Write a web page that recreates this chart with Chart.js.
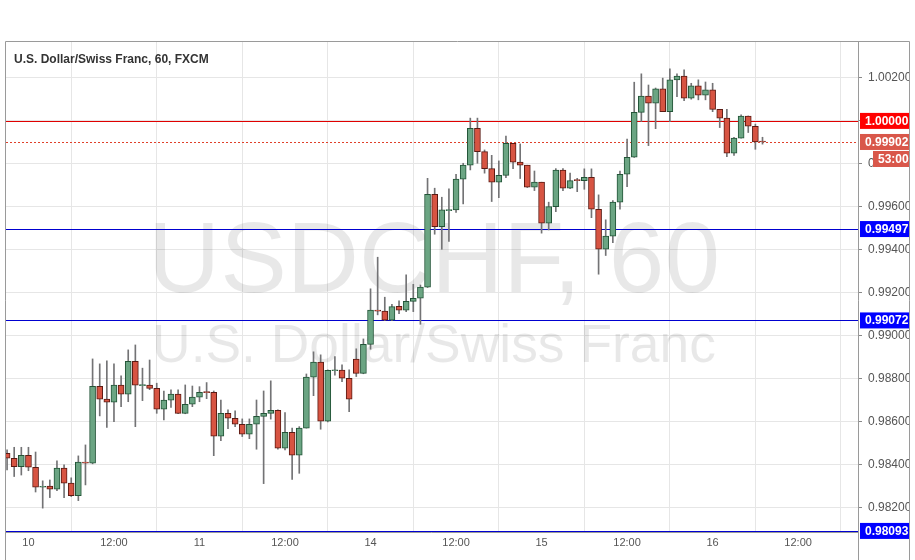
<!DOCTYPE html>
<html><head><meta charset="utf-8">
<script src="https://cdn.jsdelivr.net/npm/chart.js@4/dist/chart.umd.min.js"></script>
<style>html,body{margin:0;padding:0;background:#fff}#wrap{width:915px;height:560px}</style>
</head><body><div id="wrap"><canvas id="c"></canvas></div>
<script>
const opens=[.98454,.98431,.98392,.98445,.98389,.98296,.98302,.98287,.98385,.98315,.98257,.98411,.98408,.98766,.98706,.98692,.98771,.98729,.98882,.98769,.98771,.98756,.98659,.98701,.98729,.98640,.98682,.98715,.98738,.98738,.98534,.98640,.98617,.98589,.98543,.98589,.98626,.98640,.98654,.98478,.98552,.98445,.98571,.98808,.98878,.98603,.98838,.98841,.98803,.98892,.98826,.98961,.99120,.99115,.99073,.99138,.99120,.99161,.99175,.99227,.99659,.99508,.99583,.99586,.99729,.99794,.99966,.99857,.99778,.99715,.99747,.99896,.99808,.99794,.99692,.99715,.99524,.99601,.99771,.99687,.99725,.99722,.99738,.99589,.99403,.99464,.99622,.99752,.99831,1.00040,1.00116,1.00082,1.00149,1.00043,1.00191,1.00209,1.00106,1.00163,1.00120,1.00144,1.00054,1.00013,.99850,.99920,1.00023,.99975,.99906];
const highs=[.98470,.98482,.98482,.98482,.98460,.98326,.98330,.98419,.98400,.98340,.98442,.98493,.98893,.98870,.98884,.98870,.98814,.98935,.98958,.98850,.98888,.98780,.98744,.98749,.98749,.98772,.98767,.98764,.98783,.98744,.98702,.98656,.98651,.98614,.98614,.98702,.98744,.98791,.98656,.98643,.98571,.98578,.98823,.98926,.98912,.98842,.98904,.98865,.98842,.98940,.98986,.99219,.99366,.99180,.99147,.99163,.99284,.99240,.99237,.99733,.99687,.99645,.99684,.99752,.99803,1.00013,1.00013,.99865,.99840,.99814,.99930,.99896,.99893,.99794,.99767,.99715,.99622,.99778,.99778,.99757,.99733,.99777,.99777,.99656,.99540,.99629,.99767,.99916,1.00180,1.00219,1.00167,1.00153,1.00199,1.00242,1.00219,1.00237,1.00175,1.00191,1.00181,1.00175,1.00054,1.00054,.99924,1.00028,1.00023,.99985,.99924];
const lows=[.98377,.98346,.98353,.98373,.98274,.98199,.98248,.98280,.98248,.98253,.98234,.98307,.98405,.98628,.98574,.98601,.98671,.98694,.98578,.98699,.98750,.98640,.98609,.98667,.98638,.98638,.98671,.98694,.98708,.98443,.98513,.98569,.98578,.98532,.98522,.98473,.98313,.98613,.98473,.98470,.98333,.98361,.98571,.98722,.98566,.98600,.98817,.98787,.98648,.98811,.98824,.98938,.99098,.99071,.99071,.99104,.99113,.99113,.99054,.99225,.99473,.99403,.99439,.99574,.99614,.99772,.99803,.99757,.99625,.99643,.99736,.99778,.99732,.99690,.99676,.99478,.99493,.99578,.99676,.99685,.99671,.99682,.99550,.99287,.99374,.99434,.99589,.99694,.99830,.99997,.99885,.99964,1.00043,.99997,1.00113,1.00094,1.00101,1.00098,1.00098,1.00043,.99969,.99834,.99839,.99920,.99946,.99868,.99892];
const closes=[.98431,.98392,.98445,.98389,.98296,.98300,.98287,.98385,.98315,.98257,.98413,.98408,.98766,.98706,.98692,.98771,.98729,.98882,.98771,.98771,.98756,.98659,.98701,.98729,.98640,.98682,.98715,.98738,.98736,.98534,.98640,.98617,.98589,.98543,.98589,.98626,.98640,.98654,.98478,.98552,.98445,.98571,.98808,.98878,.98603,.98840,.98841,.98803,.98706,.98826,.98961,.99120,.99115,.99073,.99136,.99120,.99161,.99175,.99227,.99659,.99508,.99586,.99586,.99729,.99794,.99966,.99857,.99778,.99715,.99747,.99896,.99808,.99794,.99692,.99715,.99524,.99601,.99771,.99687,.99722,.99722,.99738,.99589,.99403,.99464,.99622,.99752,.99831,1.00040,1.00116,1.00082,1.00149,1.00043,1.00191,1.00209,1.00106,1.00163,1.00120,1.00144,1.00054,1.00013,.99850,.99920,1.00023,.99975,.99902,.99902];
const xTickIdx=[3,15,27,39,51,63,75,87,99,111];
const xTickLabels=["10","12:00","11","12:00","14","12:00","15","12:00","16","12:00"];
const yTicks=[0.982,0.984,0.986,0.988,0.990,0.992,0.994,0.996,0.998,1.000,1.002];
const levelValues=[1.00000,0.99497,0.99072,0.98093];
const levelColors=["#e00000","#0000d0","#0000d0","#0000d0"];
const lastPrice=0.99902;
const countdown="53:00";
const title="U.S. Dollar/Swiss Franc, 60, FXCM";
const wm1="USDCHF, 60", wm2="U.S. Dollar/Swiss Franc";

const bodies=opens.map((o,i)=>({x:i,y:[o,closes[i]]}));
const wicks=opens.map((o,i)=>({x:i,y:[lows[i],highs[i]]}));
const up=i=>closes[i]>=opens[i];
const FONT='"Liberation Sans", Arial, sans-serif';

const deco={id:'deco',
 beforeDatasetsDraw(ch){const c=ch.ctx,a=ch.chartArea;c.save();
  c.beginPath();c.rect(a.left,a.top,a.right-a.left,a.bottom-a.top);c.clip();
  c.fillStyle='rgba(0,0,0,0.09)';c.textAlign='center';c.textBaseline='alphabetic';
  const fit=(t,w,y)=>{c.font='100px '+FONT;const s=w/c.measureText(t).width;c.font=(100*s)+'px '+FONT;c.fillText(t,434,y);};
  fit(wm1,572,292);fit(wm2,564,362);
  const y=ch.scales.y;
  levelValues.forEach((v,i)=>{const p=Math.round(y.getPixelForValue(v))+0.5;c.strokeStyle=levelColors[i];c.lineWidth=1;c.beginPath();c.moveTo(a.left,p);c.lineTo(a.right,p);c.stroke();});
  const p=Math.round(y.getPixelForValue(lastPrice))+0.5;c.strokeStyle='#e0402a';c.setLineDash([2,2]);c.beginPath();c.moveTo(a.left,p);c.lineTo(a.right,p);c.stroke();
  c.restore();},
 afterDraw(ch){const c=ch.ctx,a=ch.chartArea,y=ch.scales.y;c.save();
  c.strokeStyle='#9a9a9a';c.lineWidth=1;c.beginPath();
  c.moveTo(5.5,41.5);c.lineTo(909.5,41.5);c.moveTo(5.5,41.5);c.lineTo(5.5,560);c.moveTo(a.right+0.5,41.5);c.lineTo(a.right+0.5,560);c.moveTo(909.5,41.5);c.lineTo(909.5,560);c.moveTo(5.5,a.bottom+0.5);c.lineTo(a.right,a.bottom+0.5);c.stroke();
  c.font='bold 12px '+FONT;c.fillStyle='#333';c.textBaseline='middle';c.textAlign='left';c.fillText(title,14,60);
  const box=(v,txt,bg,x0,dy)=>{const p=y.getPixelForValue(v)+(dy||0);c.fillStyle=bg;c.fillRect(x0,p-8,909-x0,16);c.fillStyle='#fff';c.font='bold 12px '+FONT;c.textAlign='left';c.fillText(txt,x0+5,p+0.5);};
  levelValues.forEach((v,i)=>box(v,v.toFixed(5),levelColors[i]==='#e00000'?'#ff0000':'#0000ff',860));
  box(lastPrice,lastPrice.toFixed(5),'#d9574a',860);
  box(lastPrice,countdown,'#d9574a',873,17);
  c.restore();}
};

new Chart(document.getElementById('c'),{
 type:'bar',
 data:{datasets:[
  {data:wicks,backgroundColor:'#737375',barThickness:1,grouped:false,order:2},
  {data:bodies,backgroundColor:c=>up(c.dataIndex)?'#6ba583':'#d75442',borderColor:c=>up(c.dataIndex)?'#225437':'#5b1a13',borderWidth:1,borderSkipped:false,barThickness:6,grouped:false,minBarLength:1,order:1}
 ]},
 options:{responsive:true,maintainAspectRatio:false,animation:false,
  layout:{padding:{left:6,top:42,right:6,bottom:0}},
  plugins:{legend:{display:false},tooltip:{enabled:false}},
  scales:{
   x:{type:'linear',min:-0.15,max:119.4,offset:false,
    afterBuildTicks:s=>{s.ticks=xTickIdx.map(v=>({value:v}));},
    afterFit:s=>{s.height=28;},
    ticks:{autoSkip:false,maxRotation:0,color:'#555',font:{size:11,family:FONT},padding:4,callback:(v)=>{const k=xTickIdx.indexOf(v);return k<0?'':xTickLabels[k];}},
    grid:{color:'#e6e6e6',drawTicks:false},border:{display:false}},
   y:{position:'right',min:0.98088,max:1.00367,
    afterBuildTicks:s=>{s.ticks=yTicks.map(v=>({value:v}));},
    afterFit:s=>{s.width=51;},
    ticks:{color:'#555',font:{size:12,family:FONT},padding:6,callback:v=>v.toFixed(5)},
    grid:{color:'#e6e6e6',tickLength:4,tickColor:'#888'},border:{display:false}}
  }},
 plugins:[deco]
});
</script></body></html>
